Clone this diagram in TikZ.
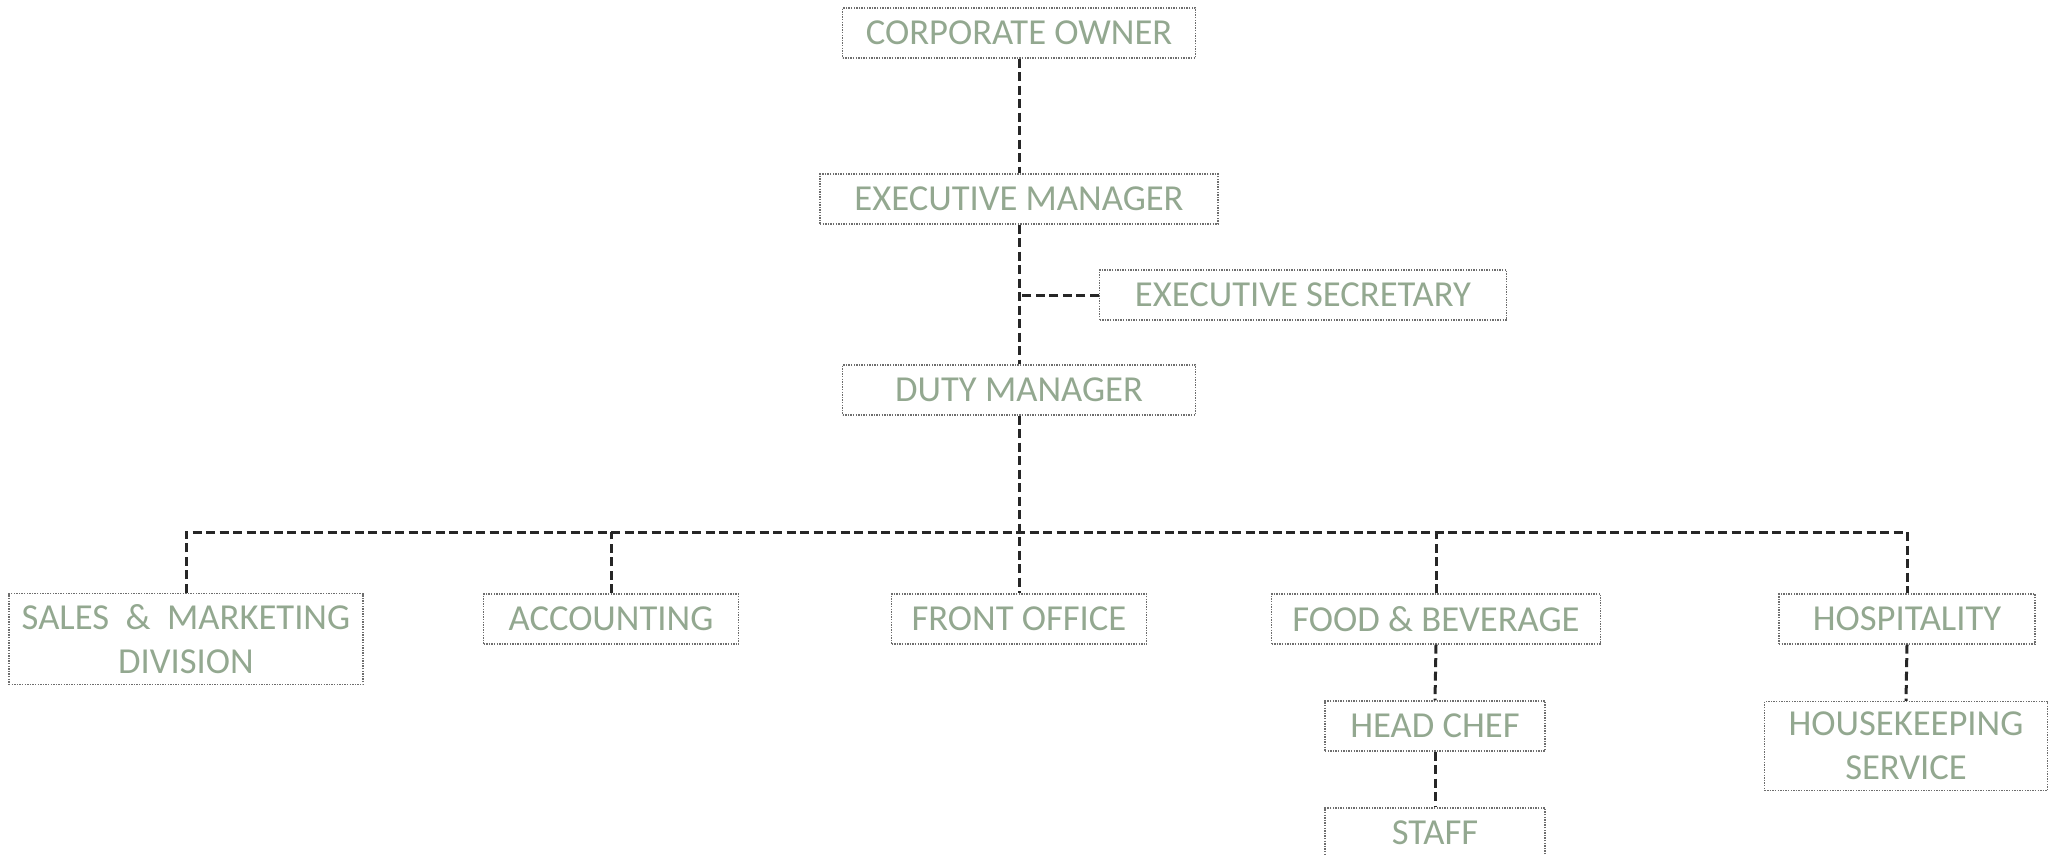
\documentclass[tikz,border=0pt]{standalone}
\usepackage{fontspec}
\setmainfont{Carlito}
\definecolor{sage}{HTML}{93A890}
\definecolor{boxline}{HTML}{6E6E6E}
\begin{document}
\begin{tikzpicture}[x=1pt,y=-1pt,
  box/.style={draw=boxline, line width=1.3pt, dash pattern=on 1.4pt off 1.2pt, text=sage,
    font=\fontsize{36.6}{44}\selectfont, align=center, inner sep=0pt, minimum height=50pt},
  conn/.style={draw=black!85, line width=3pt, dash pattern=on 9pt off 4.5pt}]
\useasboundingbox (0,0) rectangle (2053,856);
\node[box, minimum width=353pt] (co) at (1019,33) {CORPORATE OWNER};
\node[box, minimum width=398pt] (em) at (1019,199) {EXECUTIVE MANAGER};
\node[box, minimum width=407pt] (es) at (1303,295) {EXECUTIVE SECRETARY};
\node[box, minimum width=353pt] (dm) at (1019,390) {DUTY MANAGER};
\node[box, minimum width=354pt, minimum height=91pt] (sm) at (186,639) {SALES\ \ \&\ \ MARKETING\\DIVISION};
\node[box, minimum width=255pt] (acc) at (611,619) {ACCOUNTING};
\node[box, minimum width=255pt] (fo) at (1019,619) {FRONT OFFICE};
\node[box, minimum width=329pt] (fb) at (1436,619) {FOOD \& BEVERAGE};
\node[box, minimum width=256pt] (hos) at (1907,619) {HOSPITALITY};
\node[box, minimum width=220pt] (hc) at (1435,726) {HEAD CHEF};
\node[box, minimum width=220pt] (st) at (1435,833) {STAFF};
\node[box, minimum width=283pt, minimum height=89pt] (hk) at (1906,746) {HOUSEKEEPING\\SERVICE};
\coordinate (bus) at (1019,532);
\draw[conn] (co.south) -- (em.north);
\draw[conn] (em.south) -- (dm.north);
\draw[conn] (es.west) -- (es.west -| em.south);
\draw[conn] (dm.south) -- (fo.north);
\draw[conn] (sm.north) -- (sm.north |- bus) -- (hos.north |- bus) -- (hos.north);
\draw[conn] (acc.north) -- (acc.north |- bus);
\draw[conn] (fb.north) -- (fb.north |- bus);
\draw[conn] (fb.south) -- (hc.north);
\draw[conn] (hc.south) -- (st.north);
\draw[conn] (hos.south) -- (hk.north);
\end{tikzpicture}
\end{document}
